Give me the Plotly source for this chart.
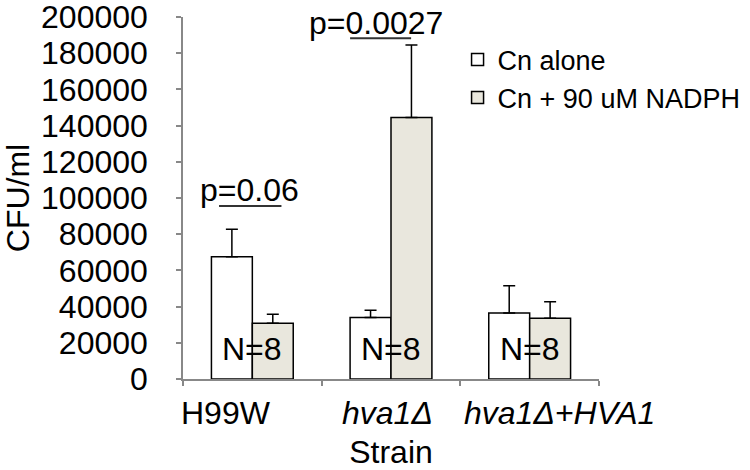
import plotly.graph_objects as go

strains = ["H99W", "hva1Δ", "hva1Δ+HVA1"]
strain_labels = ["H99W", "<i>hva1Δ</i>", "<i>hva1Δ+HVA1</i>"]
series_names = ["Cn alone", "Cn + 90 uM NADPH"]
cn_alone = [67500, 34000, 36500]
cn_alone_err = [15200, 4000, 15000]
cn_nadph = [30800, 144500, 33500]
cn_nadph_err = [5000, 40000, 9200]
p_values = [{"cat": 0, "text": "p=0.06", "y": 104500, "line_y": 95600, "x0": -0.24, "x1": 0.21, "tx": -0.02},
            {"cat": 1, "text": "p=0.0027", "y": 196500, "line_y": 188300, "x0": -0.295, "x1": 0.145, "tx": -0.11}]
n_label = "N=8"
n_label_y = 16500

FONT = "Liberation Sans, Arial, sans-serif"
FS = 32

fig = go.Figure()
fig.add_trace(go.Bar(
    x=strains, y=cn_alone, name=series_names[0],
    marker=dict(color="#ffffff", line=dict(color="#000000", width=1.5)),
    error_y=dict(type="data", array=cn_alone_err, arrayminus=[0] * 3, symmetric=False,
                 color="#000000", thickness=1.5, width=6),
))
fig.add_trace(go.Bar(
    x=strains, y=cn_nadph, name=series_names[1],
    marker=dict(color="#e9e7dd", line=dict(color="#000000", width=1.5)),
    error_y=dict(type="data", array=cn_nadph_err, arrayminus=[0] * 3, symmetric=False,
                 color="#000000", thickness=1.5, width=6),
))

annotations = []
for i, s in enumerate(strains):
    annotations.append(dict(x=i, y=n_label_y, xref="x", yref="y", text=n_label,
                            showarrow=False, font=dict(family=FONT, size=FS, color="#000"),
                            yanchor="middle"))
label_shift = [-26, -4, 30]
for i, lab in enumerate(strain_labels):
    annotations.append(dict(x=i, y=0, xref="x", yref="paper", text=lab, showarrow=False,
                            xshift=label_shift[i], yshift=-34, yanchor="middle",
                            font=dict(family=FONT, size=FS, color="#000")))
shapes = []
for p in p_values:
    annotations.append(dict(x=p["cat"] + p["tx"], y=p["y"], xref="x", yref="y", text=p["text"],
                            showarrow=False, yanchor="middle",
                            font=dict(family=FONT, size=FS, color="#000")))
    shapes.append(dict(type="line", xref="x", yref="y", x0=p["cat"] + p["x0"], x1=p["cat"] + p["x1"],
                       y0=p["line_y"], y1=p["line_y"], line=dict(color="#333", width=2)))

fig.update_layout(
    width=750, height=470,
    margin=dict(l=183, r=151, t=17, b=91, autoexpand=False),
    paper_bgcolor="white", plot_bgcolor="white",
    barmode="group", bargap=0.41, bargroupgap=0,
    font=dict(family=FONT, size=FS, color="#000"),
    legend=dict(x=0.66, y=0.949, xanchor="left", yanchor="top",
                font=dict(family=FONT, size=27, color="#000"),
                bgcolor="rgba(0,0,0,0)", itemwidth=30, tracegroupgap=0),
    annotations=annotations,
    shapes=shapes,
    xaxis=dict(type="category", showticklabels=False, showline=True, linecolor="#888",
               linewidth=1.5, ticks="outside", tickson="boundaries", ticklen=5,
               tickcolor="#888", tickwidth=1.5, range=[-0.5, 2.5], automargin=False,
               title=dict(text="Strain", standoff=66, font=dict(family=FONT, size=FS))),
    yaxis=dict(range=[0, 200000], dtick=20000, tickformat="d", showline=True,
               linecolor="#888", linewidth=1.5, ticks="outside", ticklen=5,
               tickcolor="#888", tickwidth=1.5, showgrid=False, zeroline=False,
               ticklabelstandoff=22, automargin=False, ticklabeloverflow="allow",
               tickfont=dict(family=FONT, size=FS, color="#000"),
               title=dict(text="CFU/ml", standoff=16, font=dict(family=FONT, size=FS))),
)

fig.write_html("out.html", config={"displayModeBar": False},
               post_script="document.body.style.margin='0px';")
